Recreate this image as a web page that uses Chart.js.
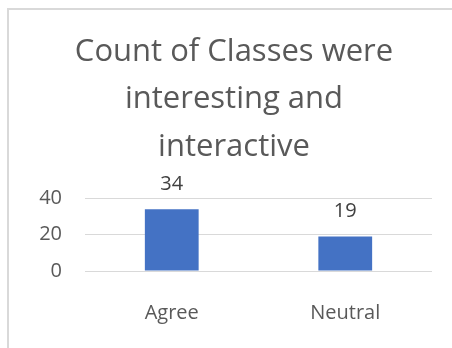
<!DOCTYPE html>
<html>
<head>
<meta charset="utf-8">
<script src="https://cdn.jsdelivr.net/npm/chart.js@4.4.0/dist/chart.umd.min.js"></script>
<style>
    html, body { margin: 0; padding: 0; background: #fff; }
    #wrap { position: relative; width: 452px; height: 348px; overflow: hidden; }
    #frame {
        position: absolute; left: 7px; top: 8px; right: -10px; bottom: -10px;
        border-top: 2px solid #d9d9d9; border-left: 2px solid #d9d9d9;
    }
    canvas { position: absolute; left: 0; top: 0; }
</style>
</head>
<body>
<div id="wrap">
    <div id="frame"></div>
    <canvas id="countChart" width="452" height="348"></canvas>
</div>
<script>
// responses per answer
const categories = ['Agree', 'Neutral'];
const counts = [34, 19];
const yTicks = [0, 20, 40];
const titleLines = ['Count of Classes were', 'interesting and', 'interactive'];

const fontFamily = '"Open Sans", Lato, sans-serif';

// writes the count above each bar
const barValues = {
    id: 'barValues',
    afterDatasetsDraw(chart) {
        const ctx = chart.ctx;
        const meta = chart.getDatasetMeta(0);
        ctx.save();
        ctx.font = '20px ' + fontFamily;
        ctx.fillStyle = '#404040';
        ctx.textAlign = 'center';
        ctx.textBaseline = 'middle';
        meta.data.forEach((bar, i) => {
            ctx.fillText(String(counts[i]), bar.x, bar.y - 25);
        });
        ctx.restore();
    }
};

const ctx = document.getElementById('countChart').getContext('2d');
new Chart(ctx, {
    type: 'bar',
    data: {
        labels: categories,
        datasets: [{
            data: counts,
            backgroundColor: '#4472c4',
            borderWidth: 0,
            barPercentage: 0.31,
            categoryPercentage: 1
        }]
    },
    options: {
        responsive: false,
        animation: false,
        layout: { padding: { left: 36, right: 20, top: 0, bottom: 0 } },
        plugins: {
            legend: { display: false },
            tooltip: { enabled: false },
            title: {
                display: true,
                text: titleLines,
                color: '#595959',
                font: { family: fontFamily, size: 31, weight: 'normal', lineHeight: 1.532 },
                padding: { top: 28, bottom: 28 }
            }
        },
        scales: {
            x: {
                afterFit: scale => { scale.height = 77; },
                grid: { display: false },
                border: { display: false },
                ticks: {
                    color: '#595959',
                    padding: 22,
                    font: { family: fontFamily, size: 20 }
                }
            },
            y: {
                min: 0,
                max: 40,
                afterBuildTicks: scale => {
                    scale.ticks = yTicks.map(v => ({ value: v }));
                },
                afterFit: scale => { scale.width = 49; },
                grid: { color: '#d9d9d9', lineWidth: 1, drawTicks: false },
                border: { display: false },
                ticks: {
                    color: '#595959',
                    padding: 23,
                    autoSkip: false,
                    font: { family: fontFamily, size: 20 }
                }
            }
        }
    },
    plugins: [barValues]
});
</script>
</body>
</html>
